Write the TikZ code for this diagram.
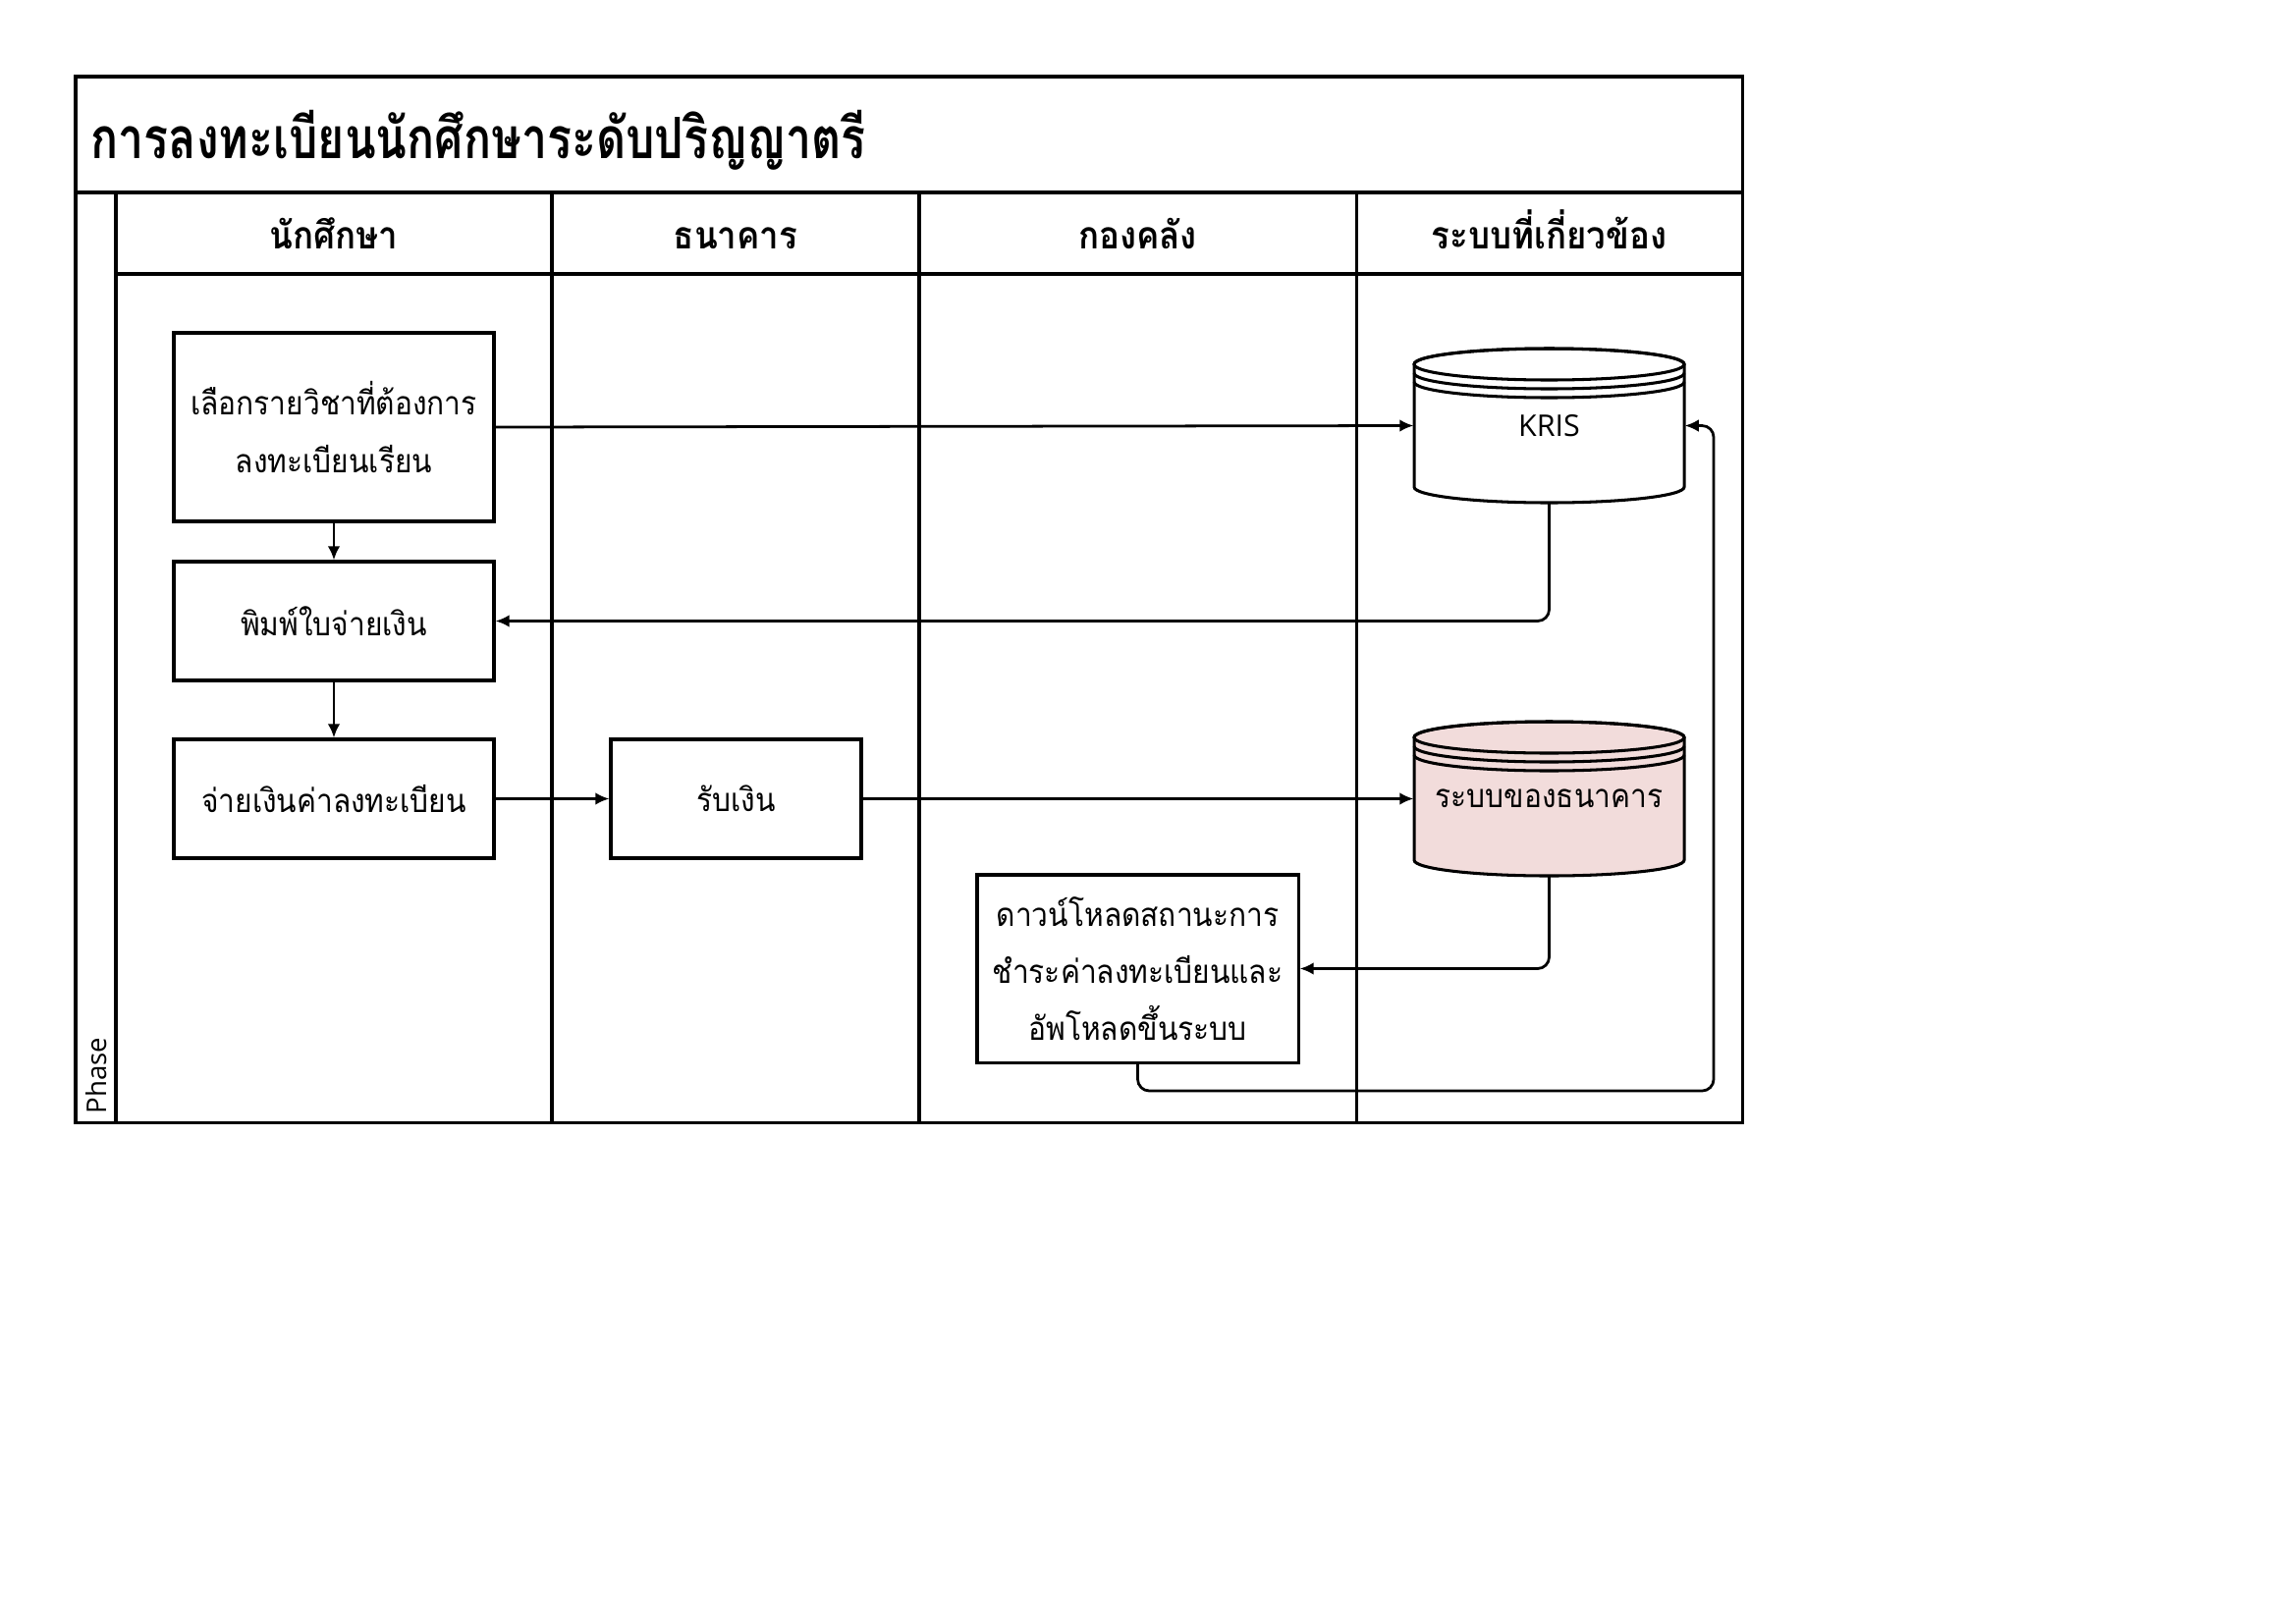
\documentclass[tikz,border=0pt]{standalone}
\usepackage{fontspec}
\setmainfont{Loma}[Script=Thai, FakeStretch=0.9]
\newfontfamily\titlefont{Loma}[Script=Thai, FakeStretch=0.8]
\newfontfamily\latinsans{Open Sans}
\usetikzlibrary{arrows.meta}
\newdimen\pu \pu=0.127mm
\definecolor{bankpink}{HTML}{F2DCDB}
\tikzset{
  lane/.style={line width=1.1pt},
  stepbox/.style={draw, line width=1.1pt, align=center, inner sep=0pt,
    font=\fontsize{12}{21}\selectfont},
  dbnode/.style={inner sep=0pt, minimum width=275\pu, minimum height=157\pu,
    font=\fontsize{12}{21}\selectfont},
  headtext/.style={anchor=base, inner sep=0pt, font=\fontsize{14}{16}\selectfont\bfseries},
  flow/.style={line width=1pt, -{Latex[length=1.8mm,width=1.6mm]}, rounded corners=1.5mm},
  dbstore/.pic={
    \path[pic actions] (-137.5,-62.5) -- (-137.5,62.5)
      arc[start angle=180, end angle=360, x radius=137.5\pu, y radius=16\pu]
      -- (137.5,-62.5)
      arc[start angle=0, end angle=180, x radius=137.5\pu, y radius=16\pu] -- cycle;
    \draw (0,-62.5) ellipse[x radius=137.5\pu, y radius=16\pu];
    \draw (-137.5,-53.5) arc[start angle=180, end angle=360, x radius=137.5\pu, y radius=16\pu];
    \draw (-137.5,-44.5) arc[start angle=180, end angle=360, x radius=137.5\pu, y radius=16\pu];
  }
}
\begin{document}
\begin{tikzpicture}[x=0.127mm, y=-0.127mm]
\useasboundingbox (0,0) rectangle (2338,1653);

% pool frame, title row, header row and lanes
\draw[lane] (77,78) rectangle (1774,1143);
\draw[lane] (77,196) -- (1774,196);
\draw[lane] (118,279) -- (1774,279);
\draw[lane] (118,196) -- (118,1143);
\foreach \lx in {562,936,1381} \draw[lane] (\lx,196) -- (\lx,1143);

\node[anchor=west, inner sep=0pt, font=\titlefont\fontsize{21}{24}\selectfont\bfseries] (title) at (92,143)
  {การลงทะเบียนนักศึกษาระดับปริญญาตรี};
\node[headtext] (h1) at (340,253) {นักศึกษา};
\node[headtext] (h2) at (749,253) {ธนาคาร};
\node[headtext] (h3) at (1158.5,253) {กองคลัง};
\node[headtext] (h4) at (1577.5,253) {ระบบที่เกี่ยวข้อง};
\node[rotate=90, anchor=west, inner sep=0pt, font=\latinsans\fontsize{10}{12}\selectfont] (phase) at (98,1135) {Phase};

% process steps
\node[stepbox, minimum width=326\pu, minimum height=192\pu] (select) at (340,435)
  {เลือกรายวิชาที่ต้องการ\\ลงทะเบียนเรียน};
\node[stepbox, minimum width=326\pu, minimum height=121\pu] (print) at (340,632.5)
  {พิมพ์ใบจ่ายเงิน};
\node[stepbox, minimum width=326\pu, minimum height=121\pu] (pay) at (340,813.5)
  {จ่ายเงินค่าลงทะเบียน};
\node[stepbox, minimum width=255\pu, minimum height=121\pu] (receive) at (749.5,813.5)
  {รับเงิน};
\node[stepbox, minimum width=327\pu, minimum height=191\pu] (download) at (1158.5,986.5)
  {ดาวน์โหลดสถานะการ\\ชำระค่าลงทะเบียนและ\\อัพโหลดขึ้นระบบ};

% data stores
\pic[draw, fill=white, line width=1.1pt] at (1577.5,433.5) {dbstore};
\node[dbnode] (kris) at (1577.5,433.5) {\latinsans\fontsize{11}{13}\selectfont KRIS};
\pic[draw, fill=bankpink, line width=1.1pt] at (1577.5,813.5) {dbstore};
\node[dbnode] (bank) at (1577.5,813.5) {ระบบของธนาคาร};

% flows
\coordinate (loopturn) at (1745,1111);
\draw[flow] (select.east) -- (kris.west);
\draw[flow] (select.south) -- (print.north);
\draw[flow] (kris.south) |- (print.east);
\draw[flow] (print.south) -- (pay.north);
\draw[flow] (pay.east) -- (receive.west);
\draw[flow] (receive.east) -- (bank.west);
\draw[flow] (bank.south) |- (download.east);
\draw[flow] (download.south) |- (loopturn) |- (kris.east);
\end{tikzpicture}
\end{document}
